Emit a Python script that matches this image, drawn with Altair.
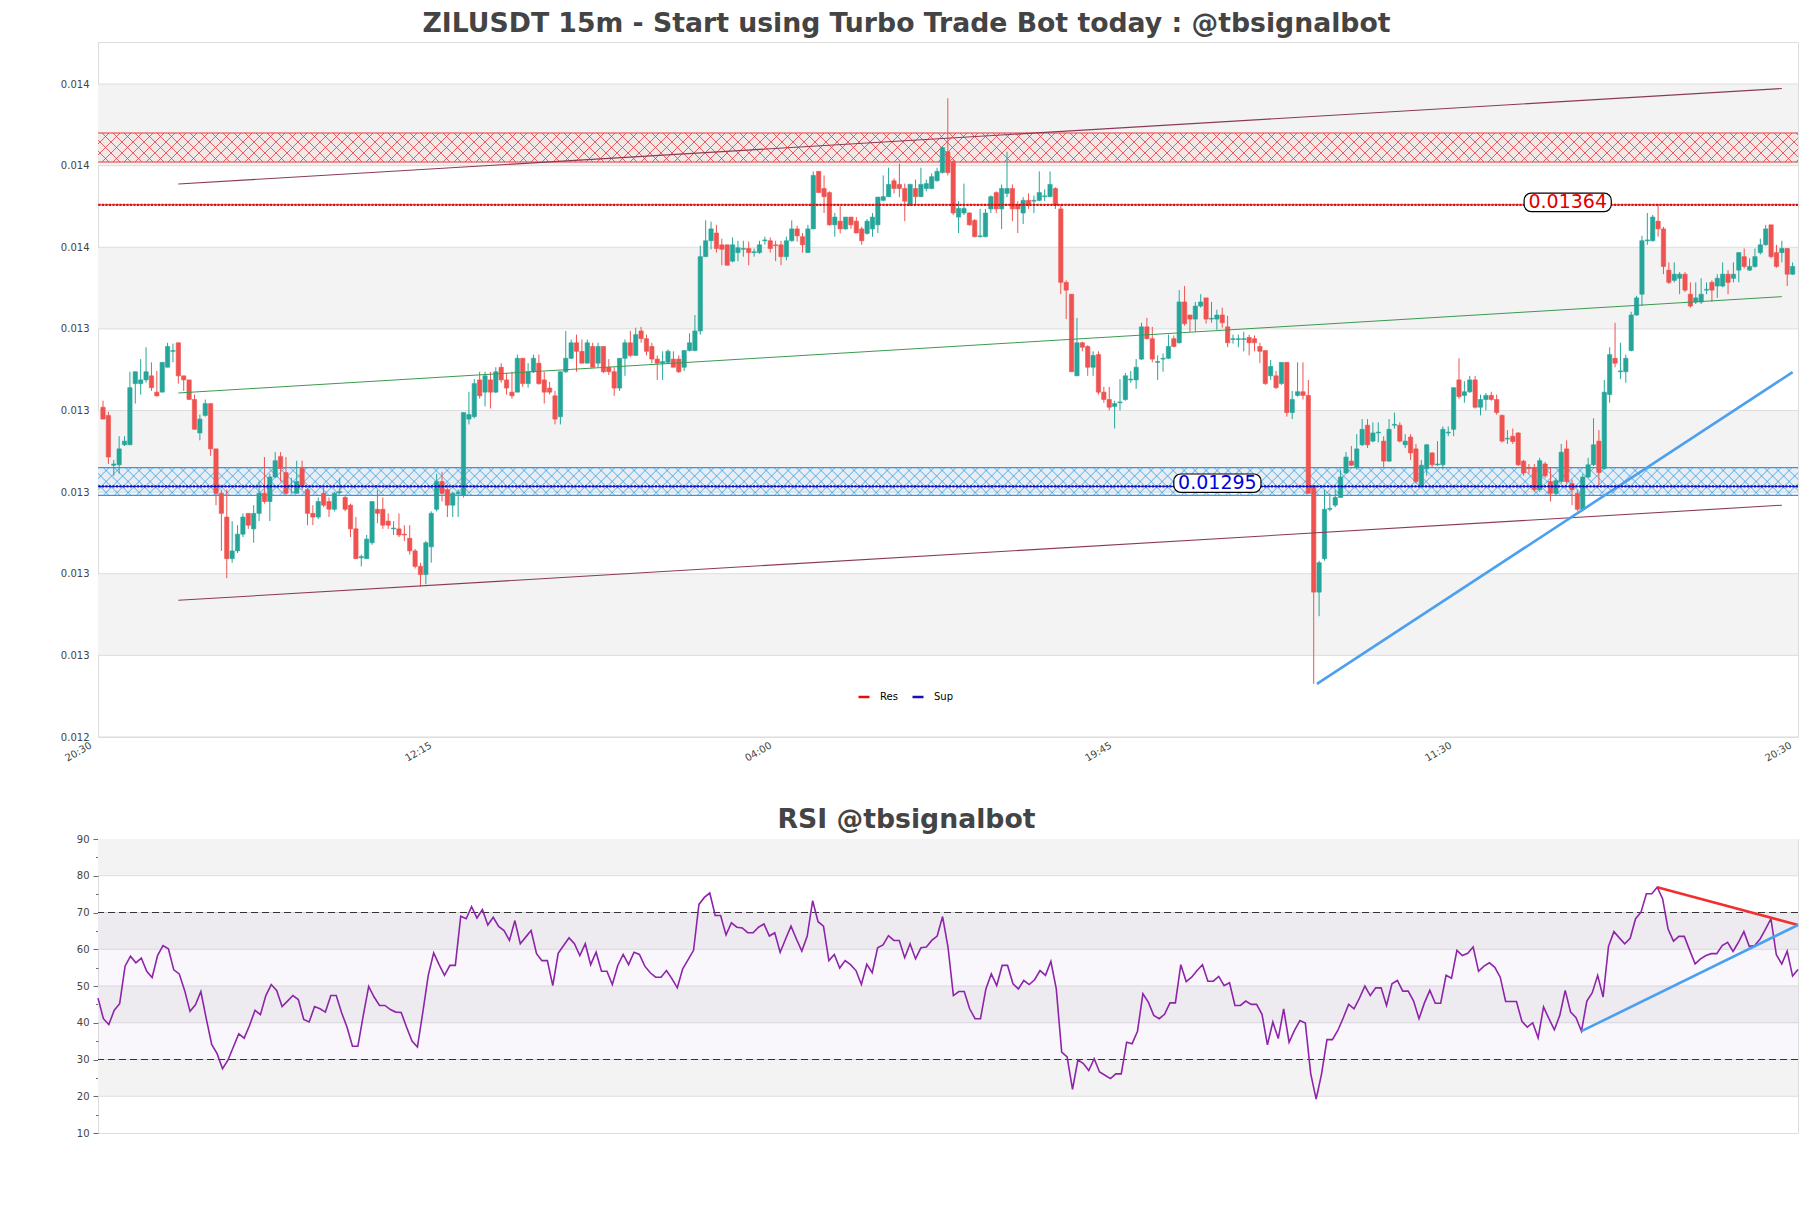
import json
import numpy as np
import pandas as pd
import altair as alt

TITLE = "ZILUSDT 15m - Start using Turbo Trade Bot today : @tbsignalbot"
RSI_TITLE = "RSI @tbsignalbot"

# ---------------- data ----------------
OPEN = [
0.013144,0.013124,0.013002,0.013003,0.013052,0.013052,0.013202,0.013202,0.013211,0.013221,
0.013181,0.013181,0.013242,0.013281,0.013302,0.013221,0.013211,0.013163,0.013081,0.013124,
0.013153,0.013042,0.012933,0.012875,0.012773,0.012792,0.012833,0.012884,0.012846,0.012884,
0.012933,0.012913,0.012973,0.013023,0.012984,0.012950,0.012933,0.012994,0.012942,0.012884,
0.012875,0.012933,0.012913,0.012894,0.012935,0.012923,0.012904,0.012846,0.012775,0.012773,
0.012812,0.012894,0.012894,0.012865,0.012846,0.012846,0.012833,0.012823,0.012792,0.012754,
0.012734,0.012802,0.012894,0.012962,0.012942,0.012904,0.012933,0.012928,0.013115,0.013121,
0.013211,0.013181,0.013211,0.013181,0.013242,0.013211,0.013181,0.013181,0.013264,0.013202,
0.013231,0.013252,0.013211,0.013191,0.013172,0.013121,0.013231,0.013264,0.013302,0.013281,
0.013252,0.013293,0.013252,0.013293,0.013242,0.013231,0.013191,0.013264,0.013302,0.013271,
0.013331,0.013312,0.013293,0.013262,0.013252,0.013254,0.013262,0.013262,0.013242,0.013283,
0.013283,0.013331,0.013513,0.013552,0.013571,0.013542,0.013542,0.013502,0.013523,0.013531,
0.013533,0.013523,0.013523,0.013552,0.013552,0.013542,0.013542,0.013513,0.013552,0.013581,
0.013562,0.013523,0.013581,0.013722,0.013680,0.013670,0.013591,0.013600,0.013581,0.013610,
0.013600,0.013581,0.013570,0.013581,0.013591,0.013651,0.013660,0.013699,0.013690,0.013680,
0.013639,0.013680,0.013660,0.013680,0.013680,0.013699,0.013719,0.013770,0.013746,0.013610,
0.013620,0.013620,0.013602,0.013562,0.013562,0.013630,0.013670,0.013630,0.013668,0.013680,
0.013641,0.013620,0.013651,0.013649,0.013651,0.013660,0.013660,0.013680,0.013630,0.013450,
0.013421,0.013221,0.013302,0.013293,0.013242,0.013273,0.013181,0.013163,0.013146,0.013155,
0.013163,0.013211,0.013211,0.013262,0.013341,0.013312,0.013254,0.013262,0.013264,0.013312,
0.013302,0.013402,0.013370,0.013360,0.013392,0.013412,0.013360,0.013360,0.013370,0.013341,
0.013310,0.013310,0.013310,0.013315,0.013312,0.013293,0.013283,0.013221,0.013221,0.013202,
0.013254,0.013131,0.013173,0.013182,0.013173,0.012952,0.012691,0.012773,0.012894,0.012904,
0.012923,0.012983,0.013012,0.012996,0.013052,0.013100,0.013061,0.013081,0.013061,0.013012,
0.013100,0.013100,0.013052,0.013071,0.013042,0.012952,0.012994,0.013032,0.013003,0.013003,
0.013081,0.013090,0.013211,0.013173,0.013182,0.013211,0.013144,0.013163,0.013173,0.013163,
0.013124,0.013066,0.013073,0.013081,0.013012,0.012996,0.012996,0.012942,0.013005,0.012962,
0.012933,0.012962,0.013042,0.012957,0.012933,0.012894,0.012973,0.013003,0.013061,0.012994,
0.013175,0.013264,0.013231,0.013231,0.013283,0.013370,0.013421,0.013552,0.013552,0.013600,
0.013581,0.013480,0.013455,0.013460,0.013470,0.013421,0.013402,0.013402,0.013431,0.013450,
0.013441,0.013441,0.013470,0.013460,0.013480,0.013513,0.013480,0.013489,0.013523,0.013542,
0.013591,0.013523,0.013523,0.013533,0.013470]

HIGH = [
0.013160,0.013133,0.013015,0.013073,0.013073,0.013231,0.013231,0.013262,0.013291,0.013254,
0.013233,0.013254,0.013302,0.013300,0.013302,0.013221,0.013211,0.013175,0.013126,0.013163,
0.013153,0.013042,0.012942,0.012942,0.012865,0.012855,0.012884,0.012884,0.012904,0.012962,
0.013022,0.012981,0.013034,0.013034,0.013022,0.012971,0.013013,0.013013,0.012947,0.012904,
0.012923,0.012947,0.012923,0.012937,0.012971,0.012928,0.012908,0.012875,0.012783,0.012831,
0.012913,0.012942,0.012923,0.012884,0.012865,0.012884,0.012855,0.012855,0.012797,0.012763,
0.012816,0.012889,0.012981,0.012986,0.012957,0.012937,0.012942,0.013131,0.013182,0.013213,
0.013231,0.013231,0.013231,0.013242,0.013252,0.013228,0.013231,0.013273,0.013264,0.013252,
0.013273,0.013273,0.013231,0.013206,0.013184,0.013231,0.013331,0.013310,0.013322,0.013310,
0.013310,0.013302,0.013302,0.013293,0.013262,0.013242,0.013264,0.013310,0.013331,0.013339,
0.013341,0.013322,0.013302,0.013271,0.013281,0.013286,0.013281,0.013271,0.013283,0.013325,
0.013370,0.013540,0.013602,0.013599,0.013591,0.013557,0.013542,0.013560,0.013552,0.013552,
0.013550,0.013533,0.013552,0.013562,0.013560,0.013552,0.013552,0.013562,0.013602,0.013589,
0.013571,0.013591,0.013722,0.013722,0.013712,0.013673,0.013620,0.013637,0.013610,0.013610,
0.013610,0.013586,0.013605,0.013620,0.013659,0.013712,0.013731,0.013705,0.013741,0.013692,
0.013692,0.013702,0.013731,0.013702,0.013717,0.013731,0.013784,0.013901,0.013751,0.013649,
0.013692,0.013622,0.013605,0.013630,0.013630,0.013663,0.013673,0.013690,0.013770,0.013690,
0.013649,0.013659,0.013668,0.013663,0.013722,0.013678,0.013722,0.013683,0.013641,0.013455,
0.013421,0.013363,0.013305,0.013296,0.013281,0.013281,0.013194,0.013194,0.013160,0.013213,
0.013228,0.013233,0.013262,0.013351,0.013363,0.013341,0.013271,0.013276,0.013322,0.013320,
0.013431,0.013441,0.013370,0.013402,0.013421,0.013412,0.013402,0.013383,0.013388,0.013368,
0.013322,0.013322,0.013329,0.013322,0.013320,0.013302,0.013283,0.013260,0.013233,0.013254,
0.013254,0.013184,0.013254,0.013254,0.013211,0.012952,0.012768,0.012942,0.012933,0.012942,
0.012991,0.013034,0.013049,0.013078,0.013115,0.013115,0.013107,0.013107,0.013073,0.013115,
0.013131,0.013107,0.013078,0.013078,0.013054,0.013015,0.013054,0.013034,0.013061,0.013097,
0.013097,0.013192,0.013264,0.013208,0.013221,0.013221,0.013175,0.013179,0.013182,0.013175,
0.013126,0.013088,0.013092,0.013083,0.013015,0.013005,0.013005,0.013020,0.013010,0.012996,
0.012971,0.013054,0.013063,0.012967,0.012942,0.012981,0.013020,0.013117,0.013088,0.013211,
0.013291,0.013351,0.013302,0.013273,0.013378,0.013417,0.013564,0.013620,0.013615,0.013641,
0.013586,0.013499,0.013499,0.013475,0.013475,0.013450,0.013450,0.013460,0.013450,0.013455,
0.013470,0.013499,0.013480,0.013499,0.013523,0.013533,0.013509,0.013533,0.013557,0.013591,
0.013591,0.013542,0.013552,0.013533,0.013499]

LOW = [
0.013115,0.013005,0.012976,0.012981,0.013049,0.013052,0.013153,0.013175,0.013204,0.013184,
0.013170,0.013181,0.013242,0.013254,0.013202,0.013184,0.013163,0.013090,0.013063,0.013121,
0.013025,0.012904,0.012792,0.012725,0.012763,0.012787,0.012826,0.012846,0.012812,0.012865,
0.012908,0.012865,0.012971,0.012962,0.012928,0.012933,0.012933,0.012942,0.012855,0.012855,
0.012870,0.012899,0.012875,0.012889,0.012931,0.012889,0.012826,0.012773,0.012754,0.012773,
0.012807,0.012860,0.012846,0.012846,0.012831,0.012826,0.012816,0.012783,0.012749,0.012705,
0.012710,0.012763,0.012889,0.012913,0.012875,0.012875,0.012875,0.012923,0.013102,0.013117,
0.013165,0.013146,0.013141,0.013179,0.013204,0.013175,0.013165,0.013181,0.013194,0.013192,
0.013228,0.013199,0.013153,0.013175,0.013102,0.013102,0.013228,0.013262,0.013231,0.013252,
0.013252,0.013242,0.013242,0.013228,0.013223,0.013172,0.013184,0.013221,0.013267,0.013271,
0.013302,0.013271,0.013252,0.013211,0.013211,0.013252,0.013242,0.013228,0.013233,0.013281,
0.013281,0.013322,0.013513,0.013531,0.013523,0.013492,0.013492,0.013499,0.013502,0.013513,
0.013492,0.013513,0.013520,0.013542,0.013523,0.013502,0.013492,0.013504,0.013550,0.013550,
0.013523,0.013523,0.013581,0.013670,0.013620,0.013589,0.013562,0.013570,0.013579,0.013581,
0.013571,0.013542,0.013567,0.013562,0.013571,0.013649,0.013659,0.013668,0.013659,0.013600,
0.013637,0.013639,0.013659,0.013673,0.013678,0.013697,0.013717,0.013712,0.013615,0.013571,
0.013615,0.013589,0.013560,0.013560,0.013560,0.013620,0.013620,0.013581,0.013659,0.013600,
0.013571,0.013593,0.013630,0.013620,0.013649,0.013649,0.013659,0.013630,0.013421,0.013360,
0.013231,0.013221,0.013281,0.013221,0.013221,0.013175,0.013155,0.013136,0.013092,0.013136,
0.013160,0.013204,0.013189,0.013260,0.013310,0.013254,0.013211,0.013231,0.013262,0.013291,
0.013300,0.013344,0.013329,0.013329,0.013388,0.013349,0.013351,0.013334,0.013339,0.013291,
0.013300,0.013291,0.013281,0.013271,0.013281,0.013252,0.013199,0.013211,0.013189,0.013199,
0.013121,0.013115,0.013170,0.013163,0.012933,0.012466,0.012632,0.012768,0.012889,0.012899,
0.012923,0.012981,0.013000,0.012991,0.013049,0.013044,0.013058,0.013058,0.012996,0.013010,
0.013092,0.013058,0.013044,0.013015,0.012957,0.012952,0.012976,0.012996,0.013000,0.012991,
0.013073,0.013073,0.013165,0.013155,0.013179,0.013141,0.013124,0.013136,0.013160,0.013126,
0.013058,0.013054,0.013054,0.013000,0.012976,0.012981,0.012937,0.012937,0.012971,0.012913,
0.012928,0.012957,0.012957,0.012904,0.012889,0.012889,0.012971,0.013000,0.012952,0.012991,
0.013155,0.013242,0.013213,0.013204,0.013281,0.013368,0.013392,0.013542,0.013550,0.013562,
0.013470,0.013446,0.013450,0.013421,0.013426,0.013388,0.013397,0.013397,0.013421,0.013402,
0.013412,0.013438,0.013421,0.013450,0.013450,0.013484,0.013478,0.013486,0.013518,0.013540,
0.013509,0.013486,0.013499,0.013441,0.013468]

CLOSE = [
0.013115,0.013022,0.013005,0.013042,0.013061,0.013192,0.013231,0.013211,0.013231,0.013192,
0.013172,0.013254,0.013293,0.013283,0.013221,0.013211,0.013163,0.013090,0.013115,0.013153,
0.013042,0.012933,0.012884,0.012773,0.012792,0.012833,0.012875,0.012855,0.012884,0.012933,
0.012913,0.012973,0.013013,0.012994,0.012933,0.012952,0.012962,0.012952,0.012884,0.012875,
0.012913,0.012904,0.012894,0.012933,0.012937,0.012894,0.012846,0.012773,0.012778,0.012821,
0.012913,0.012884,0.012855,0.012855,0.012848,0.012831,0.012831,0.012792,0.012754,0.012734,
0.012812,0.012884,0.012962,0.012933,0.012904,0.012933,0.012935,0.013131,0.013126,0.013202,
0.013172,0.013221,0.013181,0.013231,0.013211,0.013191,0.013172,0.013264,0.013202,0.013231,
0.013264,0.013202,0.013181,0.013181,0.013115,0.013231,0.013264,0.013302,0.013281,0.013252,
0.013302,0.013242,0.013293,0.013231,0.013231,0.013191,0.013264,0.013302,0.013271,0.013322,
0.013312,0.013281,0.013262,0.013252,0.013256,0.013281,0.013242,0.013231,0.013283,0.013302,
0.013331,0.013513,0.013552,0.013581,0.013533,0.013531,0.013492,0.013542,0.013535,0.013533,
0.013523,0.013525,0.013542,0.013554,0.013533,0.013540,0.013513,0.013552,0.013581,0.013564,
0.013542,0.013581,0.013712,0.013670,0.013660,0.013591,0.013610,0.013581,0.013610,0.013591,
0.013571,0.013552,0.013600,0.013610,0.013659,0.013660,0.013690,0.013680,0.013680,0.013649,
0.013690,0.013660,0.013690,0.013692,0.013709,0.013722,0.013780,0.013719,0.013620,0.013631,
0.013631,0.013591,0.013562,0.013564,0.013620,0.013660,0.013630,0.013680,0.013680,0.013630,
0.013630,0.013651,0.013639,0.013651,0.013670,0.013662,0.013690,0.013639,0.013450,0.013431,
0.013231,0.013302,0.013291,0.013242,0.013271,0.013181,0.013163,0.013144,0.013153,0.013157,
0.013221,0.013213,0.013242,0.013341,0.013312,0.013262,0.013256,0.013264,0.013293,0.013293,
0.013402,0.013349,0.013360,0.013392,0.013402,0.013360,0.013362,0.013370,0.013351,0.013302,
0.013312,0.013312,0.013312,0.013302,0.013302,0.013281,0.013202,0.013244,0.013192,0.013254,
0.013131,0.013163,0.013182,0.013173,0.012933,0.012691,0.012763,0.012894,0.012896,0.012923,
0.012973,0.013022,0.013002,0.013042,0.013090,0.013052,0.013081,0.013083,0.013012,0.013090,
0.013102,0.013061,0.013061,0.013032,0.012962,0.013002,0.013052,0.013003,0.013005,0.013090,
0.013083,0.013192,0.013170,0.013182,0.013211,0.013144,0.013163,0.013173,0.013163,0.013131,
0.013061,0.013068,0.013060,0.013003,0.012983,0.012994,0.012942,0.013013,0.012976,0.012933,
0.012964,0.013034,0.012962,0.012942,0.012894,0.012973,0.013003,0.013052,0.012984,0.013181,
0.013273,0.013252,0.013233,0.013264,0.013370,0.013412,0.013552,0.013554,0.013610,0.013581,
0.013489,0.013450,0.013470,0.013470,0.013431,0.013392,0.013412,0.013421,0.013433,0.013431,
0.013460,0.013470,0.013450,0.013470,0.013523,0.013489,0.013489,0.013513,0.013542,0.013581,
0.013513,0.013489,0.013533,0.013470,0.013489]

RSI = [
46.7, 41.1, 39.5, 43.4, 45.2, 55.4, 58.1, 56.3, 57.6, 54.0,
52.3, 58.3, 61.0, 60.1, 54.4, 53.3, 48.8, 43.1, 44.9, 48.5,
41.1, 34.1, 31.6, 27.5, 29.8, 33.4, 37.0, 35.8, 39.3, 43.4,
42.2, 47.4, 50.4, 48.8, 44.4, 45.9, 47.4, 46.3, 40.9, 40.2,
44.4, 43.8, 42.9, 47.4, 47.4, 42.7, 38.8, 33.6, 33.6, 42.0,
49.9, 47.0, 44.7, 44.7, 43.6, 42.9, 42.8, 38.8, 35.0, 33.4,
42.9, 52.9, 59.0, 55.8, 52.9, 55.6, 55.6, 69.0, 68.3, 71.6,
68.5, 70.8, 66.6, 68.7, 66.2, 65.1, 62.4, 67.8, 61.5, 63.3,
65.1, 58.8, 56.9, 56.9, 50.1, 58.9, 61.0, 63.1, 61.5, 58.3,
61.5, 55.8, 59.2, 54.0, 54.0, 50.4, 55.6, 58.6, 55.8, 59.2,
58.6, 55.4, 53.6, 52.4, 52.4,
54.2, 52.0, 49.5, 54.7, 57.2, 59.7, 72.2, 74.1, 75.3, 69.2,
69.2, 63.9, 67.2, 66.0, 65.8, 64.5, 64.5, 66.0, 66.9, 63.6,
64.5, 59.2, 62.8, 66.3, 62.8, 59.5, 63.6, 73.2, 67.5, 66.3,
56.9, 58.6, 54.9, 56.9, 55.8, 54.2, 50.4, 55.9, 53.6, 60.4,
61.2, 63.7, 62.4, 62.4, 57.7, 61.5, 57.4, 60.4, 60.6, 62.4,
63.6, 68.9, 60.6, 47.4, 48.5, 48.5, 43.8, 41.1, 41.1, 49.2,
53.3, 50.1, 55.6, 55.6, 50.6, 49.2, 51.5, 50.4, 51.7, 54.2,
52.9, 56.7, 49.2, 32.0, 30.7, 21.9, 29.9, 28.9, 27.0, 30.2,
26.6, 25.7, 24.8, 26.1, 26.1, 34.7, 34.3, 37.7, 47.9, 45.6,
42.0, 41.1, 42.3, 45.4, 45.4, 55.8, 51.2, 52.4, 54.2, 55.8,
51.3, 51.3, 52.6, 50.1,
50.9, 44.7, 44.7, 45.9, 45.0, 45.0, 42.3, 34.0, 40.2, 35.7,
43.8, 34.7, 37.9, 40.6, 39.9, 26.1, 19.2, 26.1, 35.4, 35.4,
37.9, 41.3, 45.0, 43.8, 46.7, 50.0, 47.4, 49.5, 49.5, 44.7,
50.6, 51.5, 48.6, 48.6, 45.9, 41.1, 45.4, 48.8, 45.3, 45.3,
52.9, 52.1, 59.7, 58.3, 58.9, 60.6, 54.0, 55.4, 56.3, 55.1,
52.4, 45.8, 45.8, 45.8, 40.4, 38.8, 40.0, 35.9, 44.3, 41.1,
38.1, 42.0, 48.8, 42.9, 41.4, 37.7, 45.9, 48.2, 52.9, 47.0,
60.8, 64.8, 63.1, 61.5, 63.0, 68.3, 70.1, 75.1, 75.1, 76.9,
73.7, 65.5, 62.2, 63.5, 63.5, 59.7, 56.0, 57.4, 58.3, 58.8,
58.8, 61.0, 61.9, 59.4, 61.9, 64.8, 60.8, 61.0, 62.8, 65.5,
68.3, 58.5, 56.0, 59.5, 52.7, 54.5]

X_TICK_LABELS = ["20:30", "12:15", "04:00", "19:45", "11:30", "20:30"]
PRICE_TICKS = [0.012336, 0.012536, 0.012736, 0.012936, 0.013136,
               0.013336, 0.013536, 0.013736, 0.013936]
PRICE_BAND_LO = [0.012536, 0.012936, 0.013336, 0.013736]
PRICE_BAND_HI = [0.012736, 0.013136, 0.013536, 0.013936]

LEVEL_NAMES = ["Res", "Sup"]
LEVEL_PRICES = [0.01364, 0.01295]
LEVEL_LABEL_TEXT = ["0.01364", "0.01295"]
LEVEL_LABEL_X = [272.2, 207.1]
LEVEL_LABEL_Y = [0.013646, 0.012958]
ZONE_NAMES = ["res", "sup"]
ZONE_LO = [0.013745, 0.012928]
ZONE_HI = [0.013816, 0.012996]

TREND_KIND = ["channel", "channel", "mid", "support"]
TREND_X1 = [14, 14, 14, 225.6]
TREND_Y1 = [0.013691, 0.012671, 0.013179, 0.012466]
TREND_X2 = [312, 312, 312, 314]
TREND_Y2 = [0.013925, 0.012904, 0.013415, 0.013230]

RSI_TICKS = [10, 15, 20, 25, 30, 35, 40, 45, 50, 55, 60, 65, 70, 75, 80, 85, 90]
RSI_GRID = [20, 30, 40, 50, 60, 70, 80]
RSI_BAND_LO = [20, 40, 60, 80]
RSI_BAND_HI = [30, 50, 70, 90]
RSI_LEVELS = [30, 70]
RSI_TREND_KIND = ["down", "up"]
RSI_TREND_X1 = [288, 274]
RSI_TREND_Y1 = [76.9, 37.7]
RSI_TREND_X2 = [314, 314]
RSI_TREND_Y2 = [66.6, 66.6]

# ---------------- styles ----------------
FONT = "DejaVu Sans"
W, H_MAIN, H_RSI = 1700, 695, 294
XMIN, XMAX = -0.93, 315.0
YMIN, YMAX = 0.012336, 0.014039
UP, DOWN = "#26a69a", "#ef5350"
BAND = "#f3f3f3"
GRID = "#dddddd"
TXT = "#444444"
RES_C, SUP_C = "#dd1111", "#1111bb"
HATCH_GAP = 11.0

# x ticks sit at the plot edges and split the axis into equal parts
x_tick_pos = [round(XMIN + k * (XMAX - XMIN) / (len(X_TICK_LABELS) - 1), 4)
              for k in range(len(X_TICK_LABELS))]

x_scale = alt.Scale(domain=[XMIN, XMAX], nice=False, zero=False)
y_scale = alt.Scale(domain=[YMIN, YMAX], nice=False, zero=False)
label_expr = json.dumps(X_TICK_LABELS) + "[indexof(" + json.dumps(x_tick_pos) + ", datum.value)]"
x_axis = alt.Axis(values=x_tick_pos, labelExpr=label_expr, labelAngle=-30, labelAlign="right",
                  labelBaseline="top", labelFontSize=10, labelColor=TXT, labelFont=FONT,
                  ticks=False, tickSize=0, domain=False, grid=False, labelPadding=3,
                  labelOffset=-10, minExtent=30, maxExtent=30, labelOverlap=False,
                  labelBound=False, labelFlush=False, title=None)
y_axis = alt.Axis(values=PRICE_TICKS, format=".3f", labelFontSize=10, labelColor=TXT,
                  labelFont=FONT, ticks=False, tickSize=0, domain=False, grid=False,
                  labelPadding=9, minExtent=89, maxExtent=89, title=None)


def X(f):
    return alt.X(f, type="quantitative", scale=x_scale, axis=x_axis)


def Y(f):
    return alt.Y(f, type="quantitative", scale=y_scale, axis=y_axis)


candles = pd.DataFrame({"i": np.arange(len(OPEN)), "o": OPEN, "h": HIGH, "l": LOW, "c": CLOSE})
bands = pd.DataFrame({"lo": PRICE_BAND_LO, "hi": PRICE_BAND_HI})
grid = pd.DataFrame({"p": PRICE_TICKS})
zones = pd.DataFrame({"zone": ZONE_NAMES, "lo": ZONE_LO, "hi": ZONE_HI})
levels = pd.DataFrame({"name": LEVEL_NAMES, "p": LEVEL_PRICES})
labels = pd.DataFrame({"name": LEVEL_NAMES, "t": LEVEL_LABEL_TEXT, "x": LEVEL_LABEL_X, "y": LEVEL_LABEL_Y})
trends = pd.DataFrame({"kind": TREND_KIND, "x1": TREND_X1, "y1": TREND_Y1, "x2": TREND_X2, "y2": TREND_Y2})

# hatch pattern (decoration) for the two zones, 45 degrees in pixel space
px_x = W / (XMAX - XMIN)
px_y = H_MAIN / (YMAX - YMIN)
rows = []
for z, lo, hi in zip(ZONE_NAMES, ZONE_LO, ZONE_HI):
    dx = (hi - lo) * px_y / px_x
    step = HATCH_GAP / px_x
    for s in np.arange(XMIN - dx, XMAX + step, step):
        rows.append({"zone": z, "x1": s, "x2": s + dx, "y1": lo, "y2": hi})
        rows.append({"zone": z, "x1": s, "x2": s + dx, "y1": hi, "y2": lo})
hatch = pd.DataFrame(rows)

base_bands = alt.Chart(bands).mark_rect(color=BAND).encode(
    x=alt.value(0), x2=alt.value(W), y=Y("lo"), y2="hi")
base_grid = alt.Chart(grid).mark_rule(color=GRID, strokeWidth=1).encode(y=Y("p"))

zone_layers = []
for z, col, fill in [("res", "#e8383b", "#ff6060"), ("sup", "#2a9be6", "#50aaff")]:
    zd = zones[zones.zone == z]
    hd = hatch[hatch.zone == z]
    zone_layers.append(alt.Chart(zd).mark_rect(color=fill, opacity=0.07).encode(
        x=alt.value(0), x2=alt.value(W), y=Y("lo"), y2="hi"))
    zone_layers.append(alt.Chart(hd).mark_rule(color=col, strokeWidth=0.8, clip=True).encode(
        x=X("x1"), x2="x2", y=Y("y1"), y2="y2"))
    zone_layers.append(alt.Chart(zd).mark_rule(color=col, strokeWidth=1.2).encode(y=Y("lo")))
    zone_layers.append(alt.Chart(zd).mark_rule(color=col, strokeWidth=1.2).encode(y=Y("hi")))

candle_layers = []
for cond, col in [("datum.c >= datum.o", UP), ("datum.c < datum.o", DOWN)]:
    candle_layers.append(alt.Chart(candles).transform_filter(cond).mark_rule(
        color=col, strokeWidth=1).encode(x=X("i"), y=Y("l"), y2="h"))
    candle_layers.append(alt.Chart(candles).transform_filter(cond).transform_calculate(
        x0="datum.i - 0.4", x1="datum.i + 0.4").mark_rect(
        color=col, stroke=col, strokeWidth=0.6).encode(x=X("x0"), x2="x1", y=Y("o"), y2="c"))

trend_styles = {"channel": ("#8b3a55", 1.1), "mid": ("#3a9a50", 1.0), "support": ("#4d9ff0", 2.6)}
trend_layers = []
for k, (col, sw) in trend_styles.items():
    trend_layers.append(alt.Chart(trends[trends.kind == k]).mark_rule(
        color=col, strokeWidth=sw, clip=True).encode(x=X("x1"), x2="x2", y=Y("y1"), y2="y2"))

level_color = alt.Color("name:N", scale=alt.Scale(domain=LEVEL_NAMES, range=[RES_C, SUP_C]),
                        legend=alt.Legend(title=None, orient="none", legendX=759, legendY=648,
                                          direction="horizontal", symbolType="stroke",
                                          symbolSize=121, symbolStrokeWidth=2.5,
                                          labelFontSize=10, labelFont=FONT, labelColor="black",
                                          labelOffset=9, columnPadding=9, padding=0))
level_solid = alt.Chart(levels).mark_rule(strokeWidth=1).encode(y=Y("p"), color=level_color)
level_dots = [alt.Chart(levels[levels.name == n]).mark_rule(color=c, strokeWidth=2.2,
                                                              strokeDash=[2, 1.5]).encode(y=Y("p"))
              for n, c in zip(LEVEL_NAMES, [RES_C, SUP_C])]

box_layer = alt.Chart(labels).transform_calculate(
    x0="datum.x - 8.1", x1="datum.x + 8.1", y0="datum.y - 0.0000225", y1="datum.y + 0.0000225"
).mark_rect(fill="white", stroke="black", strokeWidth=1.2, cornerRadius=7).encode(
    x=X("x0"), x2="x1", y=Y("y0"), y2="y1")
text_layers = [alt.Chart(labels[labels.name == n]).mark_text(
    fontSize=19, font=FONT, color=c, align="center", baseline="middle").encode(
    x=X("x"), y=Y("y"), text="t") for n, c in zip(LEVEL_NAMES, ["#e00000", "#0000dd"])]

main = alt.layer(base_bands, base_grid, *zone_layers, *candle_layers, *trend_layers,
                 level_solid, *level_dots, box_layer, *text_layers).properties(
    width=W, height=H_MAIN,
    title=alt.TitleParams(TITLE, fontSize=26.7, font=FONT, fontWeight="bold", color=TXT,
                          anchor="middle", frame="group", dx=-41.5, offset=4.7))

# ---------------- RSI panel ----------------
xr_scale = alt.Scale(domain=[0, len(RSI) - 1], nice=False, zero=False)
yr_scale = alt.Scale(domain=[10, 90], nice=False, zero=False)
yr_axis = alt.Axis(values=RSI_TICKS, labelExpr="datum.value % 10 == 0 ? datum.label : ''",
                   tickSize={"condition": {"test": "datum.value % 10 == 0", "value": 5}, "value": 2.5},
                   tickColor=TXT, tickWidth=0.8, labelFontSize=10, labelColor=TXT, labelFont=FONT,
                   labelPadding=4, domain=False, grid=False, minExtent=89, maxExtent=89, title=None)


def XR(f):
    return alt.X(f, type="quantitative", scale=xr_scale, axis=None)


def YR(f):
    return alt.Y(f, type="quantitative", scale=yr_scale, axis=yr_axis)


rsi_df = pd.DataFrame({"i": np.arange(len(RSI)), "v": RSI})
rsi_bands = pd.DataFrame({"lo": RSI_BAND_LO, "hi": RSI_BAND_HI})
rsi_grid = pd.DataFrame({"v": RSI_GRID})
rsi_lv = pd.DataFrame({"v": RSI_LEVELS})
rsi_tr = pd.DataFrame({"kind": RSI_TREND_KIND, "x1": RSI_TREND_X1, "y1": RSI_TREND_Y1,
                       "x2": RSI_TREND_X2, "y2": RSI_TREND_Y2})

r_layers = [
    alt.Chart(rsi_bands).mark_rect(color=BAND).encode(x=alt.value(0), x2=alt.value(W), y=YR("lo"), y2="hi"),
    alt.Chart(rsi_grid).mark_rule(color=GRID, strokeWidth=1).encode(y=YR("v")),
    alt.Chart(pd.DataFrame({"lo": [min(RSI_LEVELS)], "hi": [max(RSI_LEVELS)]})).mark_rect(
        color="#9575cd", opacity=0.06).encode(x=alt.value(0), x2=alt.value(W), y=YR("lo"), y2="hi"),
    alt.Chart(rsi_lv).mark_rule(color="#333333", strokeWidth=1.1, strokeDash=[7, 4]).encode(y=YR("v")),
    alt.Chart(rsi_df).mark_line(color="#8e24aa", strokeWidth=1.6).encode(x=XR("i"), y=YR("v")),
    alt.Chart(rsi_tr[rsi_tr.kind == "down"]).mark_rule(color="#f03030", strokeWidth=2.6).encode(
        x=XR("x1"), x2="x2", y=YR("y1"), y2="y2"),
    alt.Chart(rsi_tr[rsi_tr.kind == "up"]).mark_rule(color="#4aa0f0", strokeWidth=2.6).encode(
        x=XR("x1"), x2="x2", y=YR("y1"), y2="y2"),
]
rsi = alt.layer(*r_layers).properties(
    width=W, height=H_RSI,
    title=alt.TitleParams(RSI_TITLE, fontSize=26.7, font=FONT, fontWeight="bold", color=TXT,
                          anchor="middle", frame="group", dx=-41.5, offset=0))

chart = alt.vconcat(main, rsi, spacing=38).properties(
    padding={"left": 0, "top": 2, "right": 0, "bottom": 0}
).configure_view(stroke="#d8d8d8", strokeWidth=1).configure(font=FONT)

chart.save("out.html", embed_options={"renderer": "svg", "actions": False})
